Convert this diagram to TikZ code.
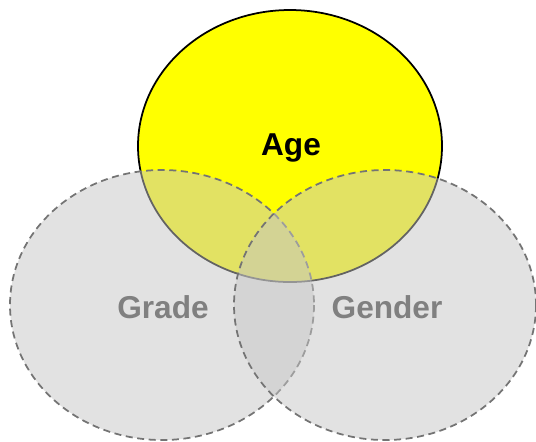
\documentclass[tikz,border=0pt]{standalone}
\usepackage{fontspec}
\setmainfont{Liberation Sans}
\definecolor{ageyellow}{HTML}{FFFF00}
\definecolor{setfillgray}{HTML}{C6C6C6}
\definecolor{setlinegray}{HTML}{747474}
\definecolor{settextgray}{HTML}{808080}
\begin{document}
\begin{tikzpicture}[x=0.02cm,y=-0.02cm,
    agestyle/.style={fill=ageyellow, draw=black, line width=1pt},
    setstyle/.style={fill=setfillgray, fill opacity=0.5, draw=setlinegray,
        line width=1pt, dash pattern=on 4pt off 2.6pt},
    setname/.style={font=\fontsize{18}{21}\selectfont\bfseries, text=settextgray}]

\useasboundingbox (0,0) rectangle (536,441);

\begin{scope}
    \draw[agestyle] (290,146) ellipse [x radius=152, y radius=136]; % Age
\end{scope}

\begin{scope}
    \draw[setstyle] (162,305) ellipse [x radius=152, y radius=135]; % Grade
    \draw[setstyle] (385,305) ellipse [x radius=151, y radius=135]; % Gender
\end{scope}

    \node[setname, text=black] (age) at (291,148) {Age};
    \node[setname] (grade) at (163,307) {Grade};
    \node[setname] (gender) at (387,307) {Gender};

\end{tikzpicture}
\end{document}
